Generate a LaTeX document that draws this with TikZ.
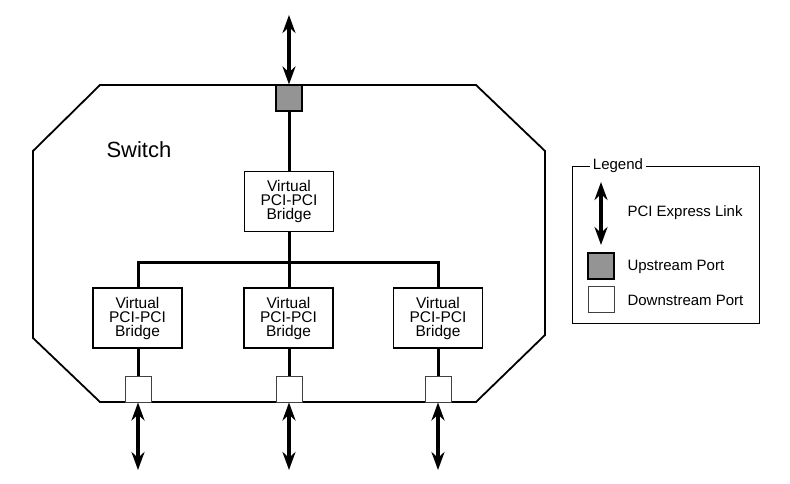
\documentclass[tikz,border=0pt]{standalone}
\usepackage{fontspec}
\setmainfont{Liberation Sans}
\usetikzlibrary{arrows.meta,positioning}
\tikzset{
    >={Stealth[length=18pt,width=13pt]},
    bridge/.style={draw,line width=1.2pt,minimum width=89pt,minimum height=60pt,inner sep=0pt,align=center,font=\fontsize{15.5}{14}\selectfont},
    upport/.style={draw,line width=1.1pt,fill=black!42,minimum size=26pt,inner sep=0pt},
    downport/.style={draw,line width=0.9pt,draw=black!75,fill=white,minimum size=26pt,inner sep=0pt},
    link/.style={<->,line width=3.2pt},
    bus/.style={line width=3pt},
    legtext/.style={anchor=west,font=\fontsize{15}{17}\selectfont}
}
\begin{document}
\begin{tikzpicture}[x=1pt,y=-1pt]
    \useasboundingbox (0,0) rectangle (790,484);
    % Switch outline
    \draw[line width=1.8pt,line join=miter] (100,85) -- (476,85) -- (545,151) -- (545,335)
        -- (476,402) -- (100,402) -- (33,338) -- (33,151) -- cycle;
    \node[font=\fontsize{22}{24}\selectfont,anchor=west] (sw) at (103,150) {Switch};

    % Ports
    \node[upport] (up) at (289,98) {};
    \node[downport] (dn1) at (138,389) {};
    \node[downport] (dn2) at (289,389) {};
    \node[downport] (dn3) at (438,389) {};

    % Bridges
    \node[bridge] (b0) at (289,201.5) {Virtual\\PCI-PCI\\Bridge};
    \node[bridge] (b1) at (137.5,318) {Virtual\\PCI-PCI\\Bridge};
    \node[bridge] (b2) at (288.5,318) {Virtual\\PCI-PCI\\Bridge};
    \node[bridge] (b3) at (438,318) {Virtual\\PCI-PCI\\Bridge};

    % Internal bus
    \coordinate (busm) at (289,262);
    \coordinate (busl) at (138,262);
    \coordinate (busr) at (438,262);
    \draw[bus] (up) -- (b0);
    \draw[bus] (b0) -- (busm);
    \draw[bus,line cap=rect] (busl) -- (busr);
    \draw[bus] (busl) -- (b1.north -| busl);
    \draw[bus] (busm) -- (b2.north -| busm);
    \draw[bus] (busr) -- (b3.north -| busr);
    \draw[bus] (b1.south -| dn1) -- (dn1);
    \draw[bus] (b2.south -| dn2) -- (dn2);
    \draw[bus] (b3.south -| dn3) -- (dn3);

    % Links
    \coordinate (lt) at (289,15);
    \coordinate (l1) at (138,470);
    \coordinate (l2) at (289,470);
    \coordinate (l3) at (438,470);
    \draw[link] (lt) -- (up.north);
    \draw[link] (dn1.south) -- (l1);
    \draw[link] (dn2.south) -- (l2);
    \draw[link] (dn3.south) -- (l3);

    % Legend
    \draw[line width=0.9pt] (572,166) rectangle (759,323);
    \node[fill=white,inner sep=3pt,font=\fontsize{15}{17}\selectfont] (leg) at (618,166) {Legend};
    \coordinate (la) at (601,182);
    \coordinate (lb) at (601,245);
    \draw[link] (la) -- (lb);
    \node[legtext] (ltxt) at (624,213) {PCI Express Link};
    \node[upport] (lup) at (601,266) {};
    \node[legtext] (lupt) at (624,267) {Upstream Port};
    \node[downport] (ldn) at (601,299.5) {};
    \node[legtext] (ldnt) at (624,300) {Downstream Port};
\end{tikzpicture}
\end{document}
